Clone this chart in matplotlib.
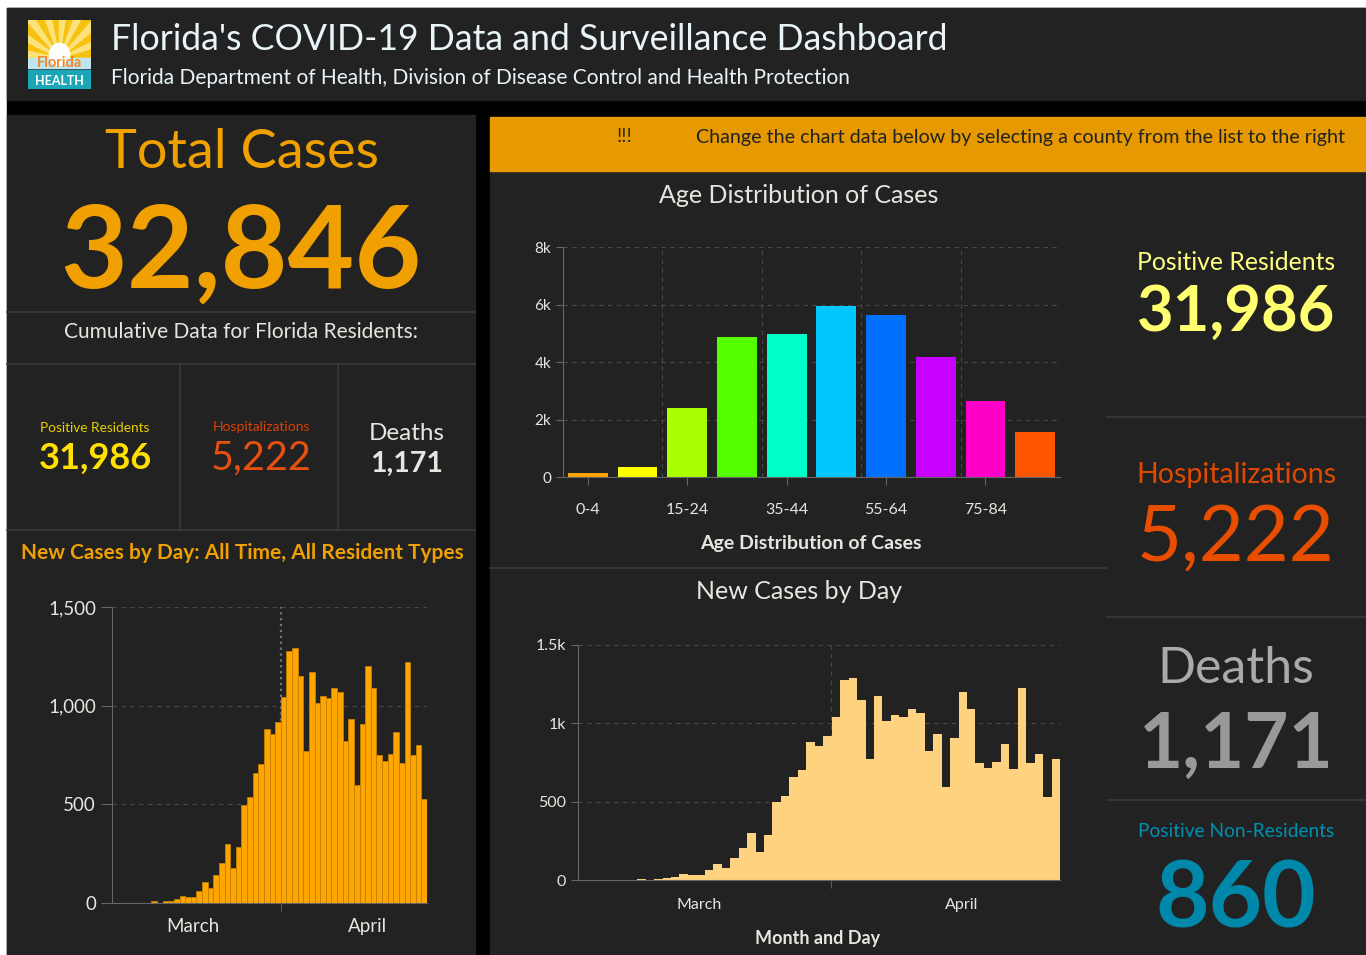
import matplotlib
matplotlib.use("Agg")
import matplotlib.pyplot as plt
from matplotlib.patches import Rectangle, Circle, Wedge

plt.rcParams['font.family'] = ['Lato', 'DejaVu Sans']

W, H = 1366, 955

# headline numbers
total_cases = "32,846"
positive_residents = "31,986"
hospitalizations = "5,222"
deaths = "1,171"
positive_non_residents = "860"

# age distribution
age_groups = ['0-4', '5-14', '15-24', '25-34', '35-44', '45-54', '55-64', '65-74', '75-84', '85+']
age_cases = [150, 360, 2400, 4880, 4970, 5940, 5630, 4170, 2660, 1550]
age_colors = ['#FFA500', '#FFFF00', '#AAFF00', '#55FF00', '#00FFC8',
              '#00C8FF', '#0070FF', '#C800FF', '#FF00C8', '#FF5500']

# new cases per day
new_cases = [1, 1, 1, 0, 0, 1, 2, 8, 1, 9, 10,
             20, 37, 30, 30, 62, 104, 74, 140, 205, 300, 178, 286, 498, 535,
             660, 704, 880, 858, 917, 1043, 1275, 1290,
             1150, 770, 1172, 1013, 1051, 1040, 1092, 1068, 821, 931, 596, 908,
             1203, 1092, 748, 718, 756, 867, 710, 1223, 748, 802, 529, 775]
month_labels = ['March', 'April']
month_pos = [14.3, 45.4]
month_split = 30

BG = '#222222'
LINE = '#3a3a3a'
TXT = '#E6E6E0'


def px_axes(x0, y0, x1, y1):
    return fig.add_axes([x0 / W, 1 - y1 / H, (x1 - x0) / W, (y1 - y0) / H])


fig = plt.figure(figsize=(W / 100, H / 100), dpi=100, facecolor='white')
bg = fig.add_axes([0, 0, 1, 1])
bg.set_xlim(0, W)
bg.set_ylim(H, 0)
bg.axis('off')

# panels
bg.add_patch(Rectangle((7, 8), W - 7, H - 8, color='black'))
bg.add_patch(Rectangle((7, 8), W - 7, 92, color=BG))
bg.add_patch(Rectangle((7, 115), 468, H - 115, color=BG))
bg.add_patch(Rectangle((490, 171), 616, H - 171, color=BG))
bg.add_patch(Rectangle((1107, 171), W - 1107, H - 171, color=BG))
bg.add_patch(Rectangle((490, 117), W - 490, 54, color='#E69900'))
for y in (312, 364, 530):
    bg.plot([7, 475], [y, y], color=LINE, lw=1.2)
for x in (180, 338):
    bg.plot([x, x], [364, 530], color=LINE, lw=1.2)
bg.plot([490, 1106], [568, 568], color=LINE, lw=1.2)
for y in (417, 617, 800):
    bg.plot([1107, W], [y, y], color=LINE, lw=1.2)

# header
bg.text(111, 40, "Florida's COVID-19 Data and Surveillance Dashboard",
        fontsize=25.7, color='#E8F4F8', va='center', ha='left')
bg.text(111, 78, "Florida Department of Health, Division of Disease Control and Health Protection",
        fontsize=15, color='#E8F4F8', va='center', ha='left')

# logo
lg = px_axes(28, 20, 91, 89)
lg.set_xlim(0, 1)
lg.set_ylim(0, 1)
lg.axis('off')
lg.add_patch(Rectangle((0, 0.4), 1, 0.6, color='#F7C10F'))
for a in range(15, 180, 22):
    lg.add_patch(Wedge((0.5, 0.45), 0.9, a, a + 9, color='#FCE27A'))
lg.add_patch(Rectangle((0, 0.3), 1, 0.15, color='#BFE6EE'))
lg.add_patch(Circle((0.5, 0.5), 0.16, color='white'))
lg.add_patch(Rectangle((0, 0), 1, 0.28, color='#1BA6B8'))
lg.text(0.5, 0.38, 'Florida', fontsize=10.5, color='#F5862A', ha='center', va='center', fontweight='bold')
lg.text(0.5, 0.12, 'HEALTH', fontsize=9, color='white', ha='center', va='center', fontweight='bold')

# left column
bg.text(242, 152, "Total Cases", fontsize=39, color='#F0A000', ha='center', va='center')
bg.text(241, 254, total_cases, fontsize=83, color='#F0A000', ha='center', va='center', fontweight='bold')
bg.text(241, 332, "Cumulative Data for Florida Residents:", fontsize=15, color=TXT, ha='center', va='center')
bg.text(95, 428, "Positive Residents", fontsize=9.8, color='#E8D000', ha='center', va='center')
bg.text(95, 458, positive_residents, fontsize=26, color='#FFE000', ha='center', va='center', fontweight='bold')
bg.text(261, 427, "Hospitalizations", fontsize=10, color='#E04000', ha='center', va='center')
bg.text(261, 458, hospitalizations, fontsize=28.5, color='#E85010', ha='center', va='center')
bg.text(407, 433, "Deaths", fontsize=17.5, color=TXT, ha='center', va='center')
bg.text(407, 464, deaths, fontsize=20.5, color=TXT, ha='center', va='center', fontweight='bold')
bg.text(242, 553, "New Cases by Day: All Time, All Resident Types", fontsize=15,
        color='#F0A000', ha='center', va='center', fontweight='bold')

# banner
bg.text(624, 137, "!!!", fontsize=14, color='#222222', ha='center', va='center')
bg.text(696, 137, "Change the chart data below by selecting a county from the list to the right",
        fontsize=14.2, color='#222222', ha='left', va='center')

# right column
bg.text(1236, 262, "Positive Residents", fontsize=17.8, color='#FFFF80', ha='center', va='center')
bg.text(1236, 313, positive_residents, fontsize=45.5, color='#FFFF70', ha='center', va='center', fontweight='bold')
bg.text(1236, 475, "Hospitalizations", fontsize=20.5, color='#E04A00', ha='center', va='center')
bg.text(1236, 540, hospitalizations, fontsize=56, color='#E84E00', ha='center', va='center')
bg.text(1236, 669, "Deaths", fontsize=36, color='#AAAAAA', ha='center', va='center')
bg.text(1236, 746, deaths, fontsize=55, color='#999999', ha='center', va='center', fontweight='bold')
bg.text(1236, 831, "Positive Non-Residents", fontsize=13.8, color='#0090B0', ha='center', va='center')
bg.text(1236, 901, positive_non_residents, fontsize=66.5, color='#0088AA', ha='center', va='center', fontweight='bold')

# chart titles
bg.text(799, 195, "Age Distribution of Cases", fontsize=18, color=TXT, ha='center', va='center')
bg.text(811, 543, "Age Distribution of Cases", fontsize=14, color=TXT, ha='center', va='center', fontweight='bold')
bg.text(799, 591, "New Cases by Day", fontsize=18, color=TXT, ha='center', va='center')
bg.text(818, 938, "Month and Day", fontsize=13, color=TXT, ha='center', va='center', fontweight='bold')


def style(ax, fs):
    ax.set_facecolor(BG)
    for s in ('top', 'right'):
        ax.spines[s].set_visible(False)
    for s in ('left', 'bottom'):
        ax.spines[s].set_color('#666666')
    ax.tick_params(colors='#666666', labelcolor=TXT, labelsize=fs)
    ax.grid(axis='y', color='#484848', ls=(0, (4, 4)), lw=0.8)
    ax.set_axisbelow(True)


# age chart
ax1 = px_axes(563, 247, 1060, 477)
style(ax1, 11.5)
ax1.bar(range(len(age_groups)), age_cases, width=0.8, color=age_colors)
ax1.set_xlim(-0.5, 9.5)
ax1.set_ylim(0, 8000)
ax1.set_yticks([0, 2000, 4000, 6000, 8000])
ax1.set_yticklabels(['0', '2k', '4k', '6k', '8k'])
ax1.set_xticks(range(0, 10, 2))
ax1.set_xticklabels(age_groups[::2])
ax1.tick_params(axis='x', length=6, pad=13)
ax1.tick_params(axis='y', length=5, labelsize=11)
for x in (1.5, 3.5, 5.5, 7.5, 9.5):
    ax1.axvline(x, color='#484848', ls=(0, (4, 4)), lw=0.8, zorder=0)

# left new cases chart (56 days)
left_cases = new_cases[:-1]
ax2 = px_axes(112, 607, 427, 903)
style(ax2, 13.5)
ax2.bar([i + 0.5 for i in range(len(left_cases))], left_cases, width=1.0,
        color='#FFA500', edgecolor='#C48000', linewidth=0.6)
ax2.set_xlim(0, len(left_cases))
ax2.set_ylim(0, 1500)
ax2.set_yticks([0, 500, 1000, 1500])
ax2.set_yticklabels(['0', '500', '1,000', '1,500'])
ax2.set_xticks(month_pos)
ax2.set_xticklabels(month_labels)
ax2.set_xticks([month_split], minor=True)
ax2.tick_params(axis='x', which='major', length=0, pad=11)
ax2.tick_params(axis='x', which='minor', length=6, colors='#666666')
ax2.tick_params(axis='y', length=8)
ax2.axvline(month_split, color='#777777', ls=':', lw=1.6, zorder=0)

# middle new cases chart (57 days)
ax3 = px_axes(578, 645, 1060, 880)
style(ax3, 11.5)
ax3.bar([i + 0.5 for i in range(len(new_cases))], new_cases, width=1.0,
        color='#FFD27F', linewidth=0)
ax3.set_xlim(0, len(new_cases))
ax3.set_ylim(0, 1500)
ax3.set_yticks([0, 500, 1000, 1500])
ax3.set_yticklabels(['0', '500', '1k', '1.5k'])
ax3.set_xticks(month_pos)
ax3.set_xticklabels(month_labels)
ax3.set_xticks([month_split - 0.1], minor=True)
ax3.tick_params(axis='x', which='major', length=0, pad=13)
ax3.tick_params(axis='x', which='minor', length=6, colors='#666666')
ax3.tick_params(axis='y', length=5)
ax3.axvline(month_split - 0.1, color='#484848', ls=(0, (4, 4)), lw=0.8, zorder=0)

fig.savefig('out.png', dpi=100, facecolor='white')
